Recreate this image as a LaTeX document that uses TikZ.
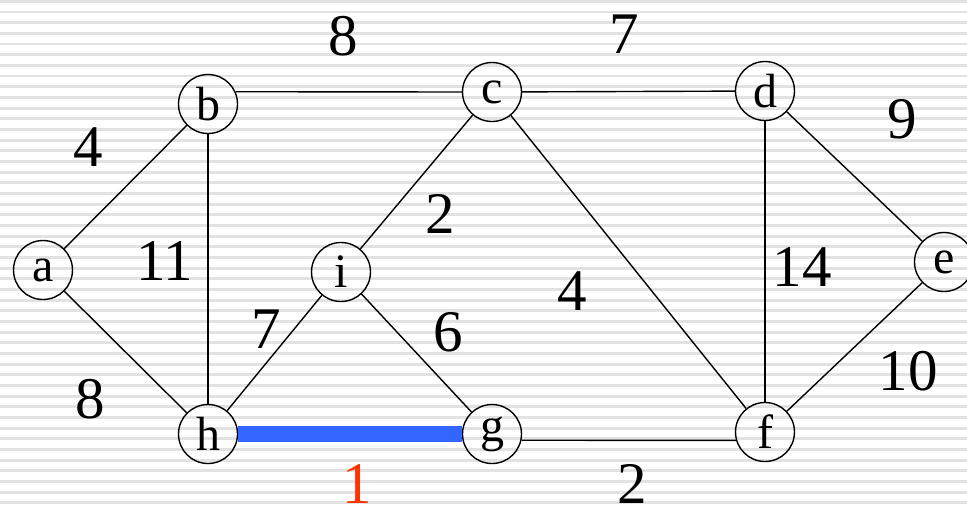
\documentclass[tikz,border=0pt]{standalone}
\usepackage{fontspec}
\setmainfont{Liberation Serif}
\definecolor{stripe}{HTML}{E2E2E2}
\definecolor{blueedge}{HTML}{3366FF}
\definecolor{redlbl}{HTML}{FF3300}
\begin{document}
\begin{tikzpicture}[x=1pt,y=-1pt,
  vtx/.style={draw=black,line width=1.4pt,circle,minimum size=59pt,inner sep=0pt,font=\fontsize{48}{48}\selectfont},
  edge/.style={draw=black,line width=1.4pt},
  lbl/.style={inner sep=0pt,font=\fontsize{59}{59}\selectfont}]
\useasboundingbox (0,0) rectangle (967,507);
\fill[white] (0,0) rectangle (967,507);
\foreach \k in {0,...,47} \fill[stripe] (0,{\k*10.67}) rectangle (967,{\k*10.67+2.8});
% vertices
\node[vtx] (a) at (43,270) {a};
\node[vtx] (b) at (208,104) {b};
\node[vtx] (c) at (492,92) {c};
\node[vtx] (d) at (765,91) {d};
\node[vtx] (e) at (944,262) {e};
\node[vtx] (i) at (341,272) {i};
\node[vtx] (h) at (208,434) {h};
\node[vtx] (g) at (492,434) {g};
\node[vtx] (f) at (765,432) {f};
% edges
\draw[edge] (a) -- (b);
\draw[edge] (a) -- (h);
\draw[edge] (b.24) -- (c.west);
\draw[edge] (b) -- (h);
\draw[edge] (c) -- (d);
\draw[edge] (c) -- (i);
\draw[edge] (c) -- (f);
\draw[edge] (d) -- (e);
\draw[edge] (d) -- (f);
\draw[edge] (e) -- (f);
\draw[edge] (i) -- (h);
\draw[edge] (i) -- (g);
\draw[edge] (g.-12) -- (f.196);
\draw[line width=16pt,blueedge] (h) -- (g);
% labels
\node[lbl] (w8t) at (343,36) {8};
\node[lbl] (w7t) at (624,34) {7};
\node[lbl] (w4l) at (88,147) {4};
\node[lbl] (w9) at (902,119) {9};
\node[lbl] (w11) at (165,261) {11};
\node[lbl] (w2m) at (440,214) {2};
\node[lbl] (w14) at (802,267) {14};
\node[lbl] (w4m) at (572,291) {4};
\node[lbl] (w7m) at (266,329) {7};
\node[lbl] (w6) at (448,332) {6};
\node[lbl] (w10) at (908,371) {10};
\node[lbl] (w8b) at (90,399) {8};
\node[lbl,text=redlbl] (w1) at (357,484) {1};
\node[lbl] (w2b) at (632,484) {2};
\end{tikzpicture}
\end{document}
